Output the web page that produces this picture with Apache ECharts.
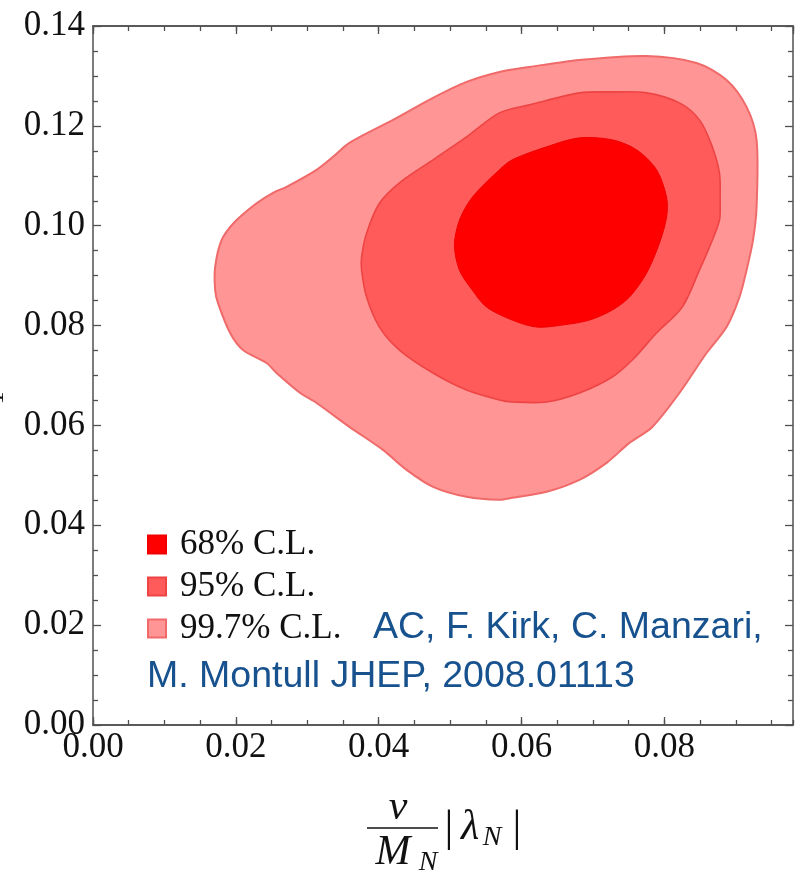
<!DOCTYPE html>
<html>
<head>
<meta charset="utf-8">
<script src="https://cdn.jsdelivr.net/npm/echarts@6/dist/echarts.min.js"></script>
<style>
  html, body { margin: 0; padding: 0; background: #ffffff; }
  #chart { width: 799px; height: 877px; }
</style>
</head>
<body>
<div id="chart"></div>
<script>
// Confidence-level regions in the (v/M_N |lambda_N|, y) plane, as closed contours [x, y]
const contour997 = [
  [0.0171, 0.0917], [0.0180, 0.0971], [0.0198, 0.1007], [0.0229, 0.1045], [0.0252, 0.1066],
  [0.0271, 0.1078], [0.0313, 0.1112], [0.0336, 0.1138], [0.0359, 0.1166], [0.0420, 0.1212],
  [0.0476, 0.1256], [0.0523, 0.1288], [0.0569, 0.1308], [0.0611, 0.1318], [0.0681, 0.1332],
  [0.0775, 0.1340], [0.0845, 0.1326], [0.0887, 0.1292], [0.0915, 0.1238], [0.0929, 0.1172],
  [0.0929, 0.1037], [0.0924, 0.0971], [0.0915, 0.0911], [0.0905, 0.0857], [0.0887, 0.0797],
  [0.0859, 0.0745], [0.0821, 0.0665], [0.0783, 0.0597], [0.0751, 0.0565], [0.0719, 0.0525],
  [0.0681, 0.0491], [0.0635, 0.0467], [0.0587, 0.0455], [0.0569, 0.0451], [0.0523, 0.0457],
  [0.0476, 0.0477], [0.0439, 0.0511], [0.0406, 0.0551], [0.0359, 0.0597], [0.0313, 0.0645],
  [0.0290, 0.0665], [0.0257, 0.0705], [0.0243, 0.0725], [0.0210, 0.0751], [0.0192, 0.0785],
  [0.0175, 0.0845], [0.0171, 0.0871]
];
const contour95 = [
  [0.0376, 0.0937], [0.0383, 0.0985], [0.0401, 0.1045], [0.0429, 0.1086], [0.0476, 0.1132],
  [0.0523, 0.1178], [0.0569, 0.1226], [0.0611, 0.1242], [0.0681, 0.1266], [0.0727, 0.1268],
  [0.0775, 0.1266], [0.0821, 0.1246], [0.0849, 0.1212], [0.0866, 0.1162], [0.0877, 0.1106],
  [0.0878, 0.1051], [0.0877, 0.1011], [0.0863, 0.0957], [0.0849, 0.0911], [0.0825, 0.0837],
  [0.0789, 0.0785], [0.0755, 0.0731], [0.0727, 0.0697], [0.0681, 0.0665], [0.0635, 0.0647],
  [0.0587, 0.0647], [0.0569, 0.0651], [0.0523, 0.0671], [0.0476, 0.0705], [0.0429, 0.0751],
  [0.0401, 0.0797], [0.0383, 0.0857], [0.0376, 0.0911]
];
const contour68 = [
  [0.0506, 0.0961], [0.0513, 0.1011], [0.0531, 0.1057], [0.0569, 0.1112], [0.0587, 0.1132],
  [0.0635, 0.1158], [0.0681, 0.1176], [0.0727, 0.1172], [0.0761, 0.1152], [0.0789, 0.1112],
  [0.0803, 0.1057], [0.0803, 0.1017], [0.0793, 0.0965], [0.0775, 0.0905], [0.0751, 0.0857],
  [0.0727, 0.0831], [0.0695, 0.0811], [0.0657, 0.0801], [0.0621, 0.0797], [0.0587, 0.0811],
  [0.0551, 0.0837], [0.0531, 0.0871], [0.0513, 0.0911]
];

const levelNames = ['68% C.L.', '95% C.L.', '99.7% C.L.'];
const xRange = [0, 0.098];
const yRange = [0, 0.14];
const majorStep = 0.02;
const minorStep = 0.005;

const serif = '"Liberation Serif", "DejaVu Serif", serif';
const frameColor = '#505050';

const chart = echarts.init(document.getElementById('chart'), null, { renderer: 'canvas' });

// Closed, smoothed region drawn through the cartesian coordinate system
function regionRenderer(points, fill, stroke, lineWidth) {
  return function (params, api) {
    if (params.dataIndex !== 0) return;
    const pts = points.map(function (p) { return api.coord(p); });
    return {
      type: 'polygon',
      shape: { points: pts, smooth: 0.3 },
      style: { fill: fill, stroke: stroke, lineWidth: lineWidth }
    };
  };
}

function region(name, points, fill, stroke, lineWidth) {
  return {
    name: name,
    type: 'custom',
    xAxisIndex: 0,
    yAxisIndex: 0,
    clip: true,
    itemStyle: { color: fill, borderColor: stroke, borderWidth: 1 },
    renderItem: regionRenderer(points, fill, stroke, lineWidth),
    encode: { x: 0, y: 1 },
    data: [points[0]]
  };
}

// One axis per side for major ticks, one for minor ticks; all ticks point inward
function xAxisDef(position, step, tickLen, labels) {
  return {
    type: 'value', position: position, min: xRange[0], max: xRange[1], interval: step,
    axisLine: { show: true, onZero: false, lineStyle: { color: frameColor, width: 1.5 } },
    axisTick: { show: true, inside: true, length: tickLen, lineStyle: { color: frameColor, width: 1.3 } },
    axisLabel: {
      show: labels, showMaxLabel: false, margin: 5, color: '#111',
      fontFamily: serif, fontSize: 35,
      formatter: function (v) { return v.toFixed(2); }
    },
    splitLine: { show: false }
  };
}
function yAxisDef(position, labels) {
  return {
    type: 'value', position: position, min: yRange[0], max: yRange[1], interval: majorStep,
    axisLine: { show: true, onZero: false, lineStyle: { color: frameColor, width: 1.5 } },
    axisTick: { show: true, inside: true, length: 8, lineStyle: { color: frameColor, width: 1.3 } },
    minorTick: { show: true, splitNumber: 4, length: 5, lineStyle: { color: frameColor, width: 1.3 } },
    axisLabel: {
      show: labels, margin: 8, color: '#111', fontFamily: serif, fontSize: 35,
      formatter: function (v) { return v.toFixed(2); }
    },
    splitLine: { show: false }
  };
}

const option = {
  backgroundColor: '#ffffff',
  animation: false,
  grid: { left: 93, right: 6, top: 26, bottom: 152, containLabel: false },
  xAxis: [
    xAxisDef('bottom', majorStep, 8, true),
    xAxisDef('bottom', minorStep, 5, false),
    xAxisDef('top', majorStep, 8, false),
    xAxisDef('top', minorStep, 5, false)
  ],
  yAxis: [
    yAxisDef('left', true),
    yAxisDef('right', false)
  ],
  legend: {
    orient: 'vertical',
    left: 142,
    top: 522,
    itemWidth: 18,
    itemHeight: 18,
    itemGap: 7,
    icon: 'rect',
    data: levelNames,
    textStyle: { fontFamily: serif, fontSize: 35, color: '#111', padding: [0, 0, 0, 9] }
  },
  graphic: [
    // citation
    { type: 'text', left: 373, top: 609, style: { text: 'AC, F. Kirk, C. Manzari,', font: '37.5px "Liberation Sans", Arial, sans-serif', fill: '#17528f' } },
    { type: 'text', left: 147, top: 658, style: { text: 'M. Montull JHEP, 2008.01113', font: '37.5px "Liberation Sans", Arial, sans-serif', fill: '#17528f' } },
    // x-axis title: v / M_N |lambda_N|
    { type: 'text', x: 398, y: 808, style: { text: 'v', font: 'italic 42px ' + serif, fill: '#111', align: 'center', verticalAlign: 'middle' } },
    { type: 'line', shape: { x1: 367, y1: 828, x2: 438, y2: 828 }, style: { stroke: '#111', lineWidth: 1.5 } },
    { type: 'text', x: 393, y: 853, style: { text: 'M', font: 'italic 42px ' + serif, fill: '#111', align: 'center', verticalAlign: 'middle' } },
    { type: 'text', x: 428, y: 863, style: { text: 'N', font: 'italic 28px ' + serif, fill: '#111', align: 'center', verticalAlign: 'middle' } },
    { type: 'text', x: 449, y: 829, style: { text: '|', font: '44px ' + serif, fill: '#111', align: 'center', verticalAlign: 'middle' } },
    { type: 'text', x: 470, y: 828, style: { text: 'λ', font: 'italic 42px ' + serif, fill: '#111', align: 'center', verticalAlign: 'middle' } },
    { type: 'text', x: 492, y: 838, style: { text: 'N', font: 'italic 28px ' + serif, fill: '#111', align: 'center', verticalAlign: 'middle' } },
    { type: 'text', x: 517, y: 829, style: { text: '|', font: '44px ' + serif, fill: '#111', align: 'center', verticalAlign: 'middle' } },
    // y-axis title, running off the left edge
    { type: 'text', x: -4, y: 398, rotation: Math.PI / 2, style: { text: '1', font: '26px ' + serif, fill: '#111', align: 'center', verticalAlign: 'middle' } }
  ],
  series: [
    region(levelNames[2], contour997, '#ff9595', '#f06a6a', 2),
    region(levelNames[1], contour95, '#ff5b5b', '#ee4444', 1.6),
    region(levelNames[0], contour68, '#ff0000', '#f00000', 1)
  ]
};

chart.setOption(option);
</script>
</body>
</html>
